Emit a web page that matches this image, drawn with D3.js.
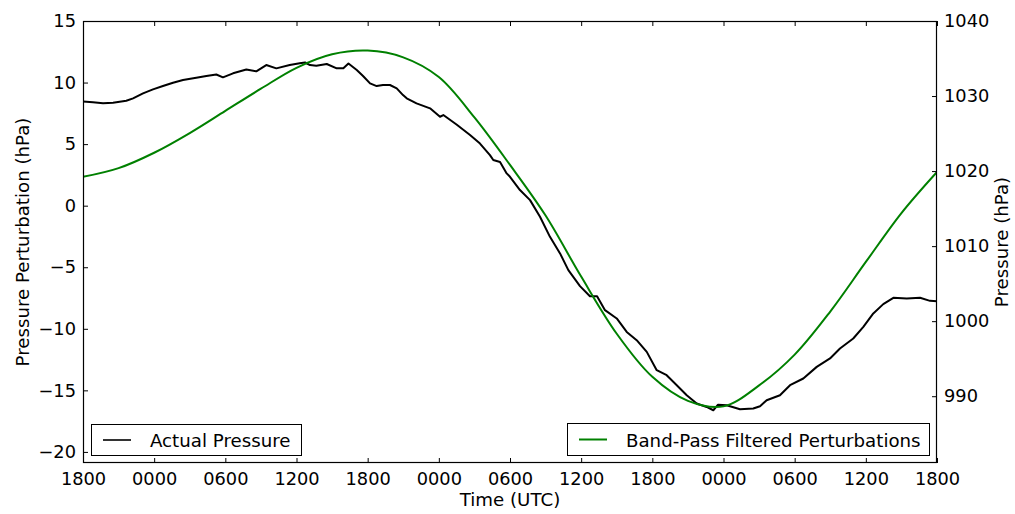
<!DOCTYPE html>
<html>
<head>
<meta charset="utf-8">
<script src="https://cdn.jsdelivr.net/npm/d3@7"></script>
<style>
  body { margin: 0; background: #fff; }
  svg { display: block; font-family: "DejaVu Sans", sans-serif; }
</style>
</head>
<body>
<svg id="chart" width="1015" height="514"></svg>
<script>
// ---- data ----
const xTickHours = [0, 6, 12, 18, 24, 30, 36, 42, 48, 54, 60, 66, 72];
const xTickLabels = ["1800", "0000", "0600", "1200", "1800", "0000", "0600", "1200", "1800", "0000", "0600", "1200", "1800"];
const leftTicks = [-20, -15, -10, -5, 0, 5, 10, 15];
const rightTicks = [990, 1000, 1010, 1020, 1030, 1040];

// Band-pass filtered perturbation (hPa, left axis)
const filteredHours = [0, 3, 6, 9, 12, 15, 18, 21, 24, 27, 30, 33, 36, 39, 42, 45, 48, 51, 54, 57, 60, 63, 66, 69, 72];
const filteredValues = [2.34, 3.05, 4.3, 5.9, 7.7, 9.5, 11.2, 12.3, 12.6, 12.05, 10.45, 7.17, 3.31, -0.8, -5.76, -10.4, -13.9, -15.85, -16.3, -14.6, -12.1, -8.6, -4.57, -0.6, 2.74];

// Actual pressure (hPa, right axis)
const actualHours = [0, 0.84, 1.69, 2.53, 3.65, 4.22, 5.06, 5.9, 6.74, 7.59, 8.43, 9.55, 10.4, 11.24, 11.8, 12.65, 13.77, 14.61, 15.45, 16.3, 17.43, 18.27, 18.72, 19.14, 19.67, 20.55, 21.39, 21.95, 22.38, 23.08, 23.61, 24.2, 24.76, 25.29, 25.88, 26.45, 26.98, 27.29, 28.12, 29.26, 30.1, 30.38, 31.49, 32.63, 33.47, 34.31, 34.59, 35.16, 35.72, 36.0, 36.84, 37.69, 38.53, 39.37, 40.22, 40.92, 41.9, 42.74, 43.34, 44.01, 45.0, 45.84, 46.68, 47.53, 48.37, 49.21, 50.06, 50.9, 51.74, 52.58, 53.14, 53.54, 54.27, 55.39, 56.51, 57.08, 57.64, 58.76, 59.61, 60.73, 61.86, 62.98, 63.82, 64.94, 65.79, 66.63, 67.47, 68.32, 69.45, 70.57, 71.41, 72];
const actualPressure = [1029.27, 1029.16, 1029.03, 1029.11, 1029.37, 1029.69, 1030.36, 1030.89, 1031.33, 1031.77, 1032.13, 1032.44, 1032.67, 1032.87, 1032.49, 1033.03, 1033.53, 1033.29, 1034.13, 1033.69, 1034.13, 1034.36, 1034.47, 1034.13, 1034.04, 1034.27, 1033.69, 1033.69, 1034.33, 1033.47, 1032.67, 1031.69, 1031.33, 1031.47, 1031.47, 1031.03, 1030.13, 1029.69, 1029.03, 1028.36, 1027.24, 1027.47, 1026.2, 1024.8, 1023.67, 1022.13, 1021.47, 1021.2, 1019.69, 1019.24, 1017.47, 1016.13, 1013.91, 1011.24, 1009.03, 1006.8, 1004.67, 1003.33, 1003.33, 1001.47, 1000.36, 998.57, 997.47, 995.91, 993.47, 992.8, 991.47, 990.13, 989.03, 988.57, 988.13, 988.87, 988.8, 988.27, 988.36, 988.67, 989.47, 990.13, 991.47, 992.36, 993.91, 995.03, 996.36, 997.69, 999.24, 1001.03, 1002.27, 1003.11, 1003.03, 1003.11, 1002.71, 1002.67];

// ---- layout ----
const L = 83, R = 937, T = 21, B = 463;
const svg = d3.select("#chart");

const x = d3.scaleLinear().domain([0, 72]).range([L, R]);
const yL = d3.scaleLinear().domain([-20.9, 15]).range([B, T]);
const yR = d3.scaleLinear().domain([981.1, 1040]).range([B, T]);

svg.append("defs").append("clipPath").attr("id", "clip")
  .append("rect").attr("x", L).attr("y", T).attr("width", R - L).attr("height", B - T);

const plot = svg.append("g").attr("clip-path", "url(#clip)");

plot.append("path")
  .datum(actualHours.map((h, i) => [h, actualPressure[i]]))
  .attr("fill", "none").attr("stroke", "#000").attr("stroke-width", 2)
  .attr("stroke-linejoin", "round")
  .attr("d", d3.line().x(d => x(d[0])).y(d => yR(d[1])));

plot.append("path")
  .datum(filteredHours.map((h, i) => [h, filteredValues[i]]))
  .attr("fill", "none").attr("stroke", "#008000").attr("stroke-width", 2)
  .attr("d", d3.line().curve(d3.curveCatmullRom.alpha(0.5)).x(d => x(d[0])).y(d => yL(d[1])));

// ---- axes ----
const fmtMinus = d => (d < 0 ? "\u2212" + Math.abs(d) : "" + d);
const tickFont = "17.8px";

function styleAxis(g) {
  g.select(".domain").remove();
  g.selectAll(".tick line").attr("stroke", "#000").attr("stroke-width", 1);
  g.selectAll(".tick text").attr("fill", "#000").style("font-size", tickFont).style("font-family", "DejaVu Sans");
}

svg.append("g").attr("transform", `translate(0,${B})`)
  .call(d3.axisBottom(x).tickValues(xTickHours).tickFormat((d, i) => xTickLabels[i]).tickSize(-5).tickPadding(9))
  .call(styleAxis);
svg.append("g").attr("transform", `translate(0,${T})`)
  .call(d3.axisTop(x).tickValues(xTickHours).tickFormat("").tickSize(-5))
  .call(styleAxis);
svg.append("g").attr("transform", `translate(${L},0)`)
  .call(d3.axisLeft(yL).tickValues(leftTicks).tickFormat(fmtMinus).tickSize(-5).tickPadding(7))
  .call(styleAxis);
svg.append("g").attr("transform", `translate(${R},0)`)
  .call(d3.axisRight(yR).tickValues(rightTicks).tickFormat(d3.format("d")).tickSize(-5).tickPadding(7))
  .call(styleAxis);

// frame
svg.append("rect").attr("x", L + 0.5).attr("y", T + 0.5).attr("width", R - L - 1).attr("height", B - T - 1)
  .attr("fill", "none").attr("stroke", "#000").attr("stroke-width", 1.2);

// axis labels
const labelSize = "18.2px";
svg.append("text").attr("transform", `translate(22,${(T + B) / 2}) rotate(-90)`)
  .attr("text-anchor", "middle").attr("dominant-baseline", "central")
  .style("font-size", labelSize).text("Pressure Perturbation (hPa)");
svg.append("text").attr("transform", `translate(1001,${(T + B) / 2}) rotate(-90)`)
  .attr("text-anchor", "middle").attr("dominant-baseline", "central")
  .style("font-size", labelSize).text("Pressure (hPa)");
svg.append("text").attr("x", (L + R) / 2).attr("y", 506)
  .attr("text-anchor", "middle").style("font-size", labelSize).text("Time (UTC)");

// legends
function legend(x0, y0, w, h, color, label) {
  const g = svg.append("g");
  g.append("rect").attr("x", x0 + 0.5).attr("y", y0 + 0.5).attr("width", w).attr("height", h)
    .attr("fill", "#fff").attr("stroke", "#000").attr("stroke-width", 1);
  g.append("line").attr("x1", x0 + 12).attr("x2", x0 + 40).attr("y1", y0 + h / 2 + 0.5).attr("y2", y0 + h / 2 + 0.5)
    .attr("stroke", color).attr("stroke-width", 2);
  g.append("text").attr("x", x0 + 59).attr("y", y0 + h / 2 + 1).attr("dominant-baseline", "central")
    .style("font-size", "18.2px").text(label);
}
legend(91, 424, 210, 31, "#333", "Actual Pressure");
legend(567, 423, 362, 32, "#008000", "Band-Pass Filtered Perturbations");
</script>
</body>
</html>
